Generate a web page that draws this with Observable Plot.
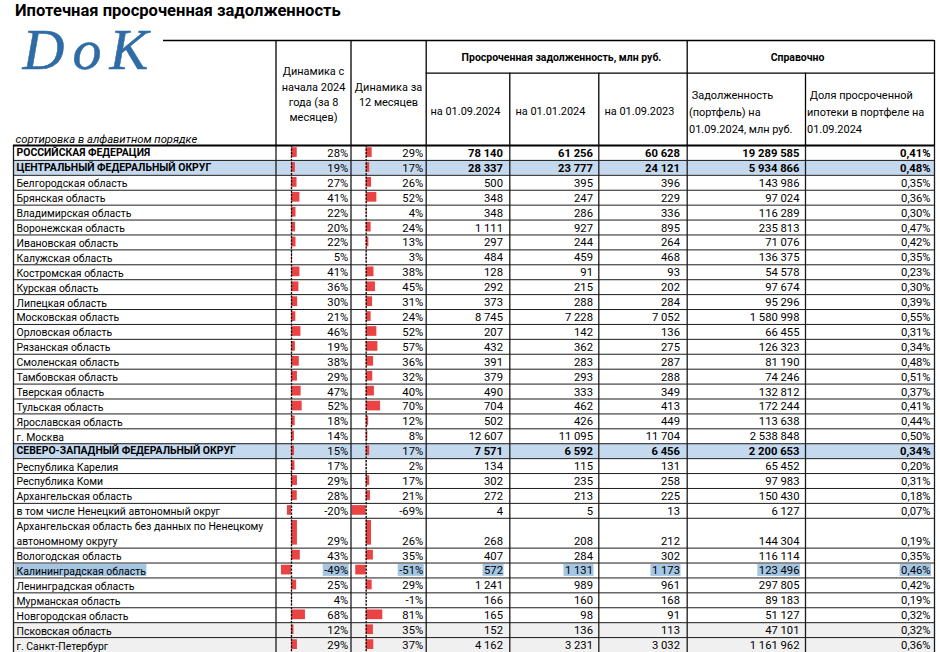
<!DOCTYPE html>
<html><head><meta charset="utf-8">
<script src="https://cdn.jsdelivr.net/npm/d3@7"></script>
<script src="https://cdn.jsdelivr.net/npm/@observablehq/plot@0.6"></script>
<style>
body{margin:0;background:#fff;}
#wrap{position:relative;width:940px;height:652px;overflow:hidden;background:#fff;}
#title{position:absolute;left:15px;top:0px;font-weight:bold;color:#000;z-index:2;white-space:nowrap;line-height:22px;}
#wrap svg{display:block;position:absolute;left:0;top:0;}
</style></head>
<body><div id="wrap"><div id="title">Ипотечная просроченная задолженность</div></div>
<script>
// ---------- DATA ----------
const names = [
 "РОССИЙСКАЯ ФЕДЕРАЦИЯ","ЦЕНТРАЛЬНЫЙ ФЕДЕРАЛЬНЫЙ ОКРУГ","Белгородская область","Брянская область",
 "Владимирская область","Воронежская область","Ивановская область","Калужская область",
 "Костромская область","Курская область","Липецкая область","Московская область",
 "Орловская область","Рязанская область","Смоленская область","Тамбовская область",
 "Тверская область","Тульская область","Ярославская область","г. Москва",
 "СЕВЕРО-ЗАПАДНЫЙ ФЕДЕРАЛЬНЫЙ ОКРУГ","Республика Карелия","Республика Коми","Архангельская область",
 "в том числе Ненецкий автономный округ","Архангельская область без данных по Ненецкому\nавтономному округу",
 "Вологодская область","Калининградская область","Ленинградская область","Мурманская область",
 "Новгородская область","Псковская область","г. Санкт-Петербург"
];
const dyn8 = [28,19,27,41,22,20,22,5,41,36,30,21,46,19,38,29,47,52,18,14,15,17,29,28,-20,29,43,-49,25,4,68,12,29];
const dyn12 = [29,17,26,52,4,24,13,3,38,45,31,24,52,57,36,32,40,70,12,8,17,2,17,21,-69,26,35,-51,29,-1,81,35,37];
const overdue_2024_09 = [78140,28337,500,348,348,1111,297,484,128,292,373,8745,207,432,391,379,490,704,502,12607,7571,134,302,272,4,268,407,572,1241,166,165,152,4162];
const overdue_2024_01 = [61256,23777,395,247,286,927,244,459,91,215,288,7228,142,362,283,293,333,462,426,11095,6592,115,235,213,5,208,284,1131,989,160,98,136,3231];
const overdue_2023_09 = [60628,24121,396,229,336,895,264,468,93,202,284,7052,136,275,287,288,349,413,449,11704,6456,131,258,225,13,212,302,1173,961,168,91,113,3032];
const portfolio = [19289585,5934866,143986,97024,116289,235813,71076,136375,54578,97674,95296,1580998,66455,126323,81190,74246,132812,172244,113638,2538848,2200653,65452,97983,150430,6127,144304,116114,123496,297805,89183,51127,47101,1161962];
const share = [0.41,0.48,0.35,0.36,0.30,0.47,0.42,0.35,0.23,0.30,0.39,0.55,0.31,0.34,0.48,0.51,0.37,0.41,0.44,0.50,0.34,0.20,0.31,0.18,0.07,0.19,0.35,0.46,0.42,0.19,0.32,0.32,0.36];
const boldRows = [0,1,20];
const blueRows = [1,20];
const grayRows = [31,32];
const highlightRows = [27];
const doubleRows = [25];

const titleText = "Ипотечная просроченная задолженность";
const headerTexts = [
 "Динамика с\nначала 2024\nгода (за 8\nмесяцев)",
 "Динамика за\n12 месяцев",
 "Просроченная задолженность, млн руб.",
 "Справочно",
 "на 01.09.2024","на 01.01.2024","на 01.09.2023",
 " Задолженность\n(портфель) на\n01.09.2024, млн руб.",
 " Доля просроченной\nипотеки в портфеле на\n01.09.2024",
 "сортировка в алфавитном порядке"
];
const logoText = "DoK";

// ---------- LAYOUT ----------
const FONT = "Roboto";
const L = {
  left: 13, right: 934, headTop: 40, headMid: 72.7, headBottom: 145, bottom: 652,
  edges: [13, 275.5, 350.5, 425.7, 509.3, 598.3, 686.7, 805, 934],
  fullHeadEdges: [275.5, 350.5, 425.7, 686.7, 934],
  midHeadEdges: [509.3, 598.3, 805],
  topLineStart: 163,
  zero8: 291, zero12: 365.7, pxPerPct: 0.205,
  nameX: 16, nameDy: -0.3, numDy: 0.4,
  numX: [502.5, 592.5, 679.5, 799, 930],
  pctX: [347.7, 422.7],
  fit: {
    name: ["Белгородская область", "normal", "normal", 111],
    bold: ["ЦЕНТРАЛЬНЫЙ ФЕДЕРАЛЬНЫЙ ОКРУГ", "bold", "normal", 195],
    num: ["143 986", "normal", "normal", 40.7],
    head: ["на 01.09.2024", "normal", "normal", 70],
    headBold: ["Просроченная задолженность, млн руб.", "bold", "normal", 200],
    italic: ["сортировка в алфавитном порядке", "normal", "italic", 182],
    title: ["Ипотечная просроченная задолженность", "bold", "normal", 326]
  },
  header: [
    {x:313, y:93, anchor:"middle", lh:15.3, f:"head"},
    {x:388, y:93, anchor:"middle", lh:15.3, f:"head"},
    {x:561, y:56, anchor:"middle", lh:15, f:"headBold"},
    {x:797, y:56, anchor:"middle", lh:15, f:"headBold"},
    {x:430, y:110, anchor:"start", lh:15, f:"head"},
    {x:515, y:110, anchor:"start", lh:15, f:"head"},
    {x:604, y:110, anchor:"start", lh:15, f:"head"},
    {x:688.5, y:110, anchor:"start", lh:16.7, f:"head"},
    {x:806.5, y:110, anchor:"start", lh:16.7, f:"head"},
    {x:15, y:137.5, anchor:"start", lh:15, f:"italic", italic:true}
  ],
  logo: {x: 22, y: 50, size: 58, spacing: 8}
};
const colors = {red:"#ea4343", blue:"#c5d9ee", gray:"#f0f0f0", hl:"#a4c6e3", line:"#1c1c1c", text:"#000", logo:"#2f6ca5"};

// ---------- BUILD ----------
const ctx = document.createElement("canvas").getContext("2d");
const tw = (s, w, size, st="normal") => { ctx.font = `${st} ${w} ${size}px ${FONT}`; return ctx.measureText(s).width; };
const FS = {};
for (const [k, [s, w, st, target]] of Object.entries(L.fit)) FS[k] = 10 * target / tw(s, w, 10, st);

const titleEl = document.getElementById("title");
titleEl.textContent = titleText;
titleEl.style.fontSize = FS.title + "px";
titleEl.style.fontFamily = FONT;

const units = names.map((n,i) => doubleRows.includes(i) ? 2 : 1);
const TOTAL = d3.sum(units);
const rowH = (L.bottom - L.headBottom) / TOTAL;
const yU = px => (px - L.headBottom) / rowH;
let acc = 0;
const rows = names.map((name,i) => {
  const r = {i, name, u0: acc, u1: acc + units[i], d8: dyn8[i], d12: dyn12[i],
    v: [overdue_2024_09[i], overdue_2024_01[i], overdue_2023_09[i], portfolio[i], share[i]],
    bold: boldRows.includes(i)};
  acc += units[i];
  return r;
});
const loc = d3.formatLocale({decimal:",", thousands:"\u00a0", grouping:[3], currency:["",""]});
const fInt = loc.format(",d");
const fShare = v => loc.format(".2f")(v) + "%";
const fPct = v => `${v}%`;
const cellFmt = [fInt, fInt, fInt, fInt, fShare];

const cells = [];
rows.forEach(r => {
  const yc = r.u1 - 0.5;
  cells.push({r, kind:"name", text: r.name, x: L.nameX, y: (r.u0 + r.u1)/2, anchor:"start", bold: r.bold, size: r.bold ? FS.bold : FS.name});
  cells.push({r, kind:"num", text: fPct(r.d8), x: L.pctX[0], y: yc, anchor:"end", bold:false, size: FS.num});
  cells.push({r, kind:"num", text: fPct(r.d12), x: L.pctX[1], y: yc, anchor:"end", bold:false, size: FS.num});
  r.v.forEach((v,k) => cells.push({r, kind:"num", text: cellFmt[k](v), x: L.numX[k], y: yc, anchor:"end", bold: r.bold, size: FS.num}));
});
const hlCells = cells.filter(c => highlightRows.includes(c.r.i)).map(c => {
  const w = tw(c.text, c.bold ? "bold" : "normal", c.size);
  return {...c, x1: c.anchor === "start" ? c.x - 1 : c.x - w - 1, x2: c.anchor === "start" ? c.x + w + 1 : c.x + 1};
});

const rowLines = rows.map(r => r.u0).concat([TOTAL]);
const hdr = headerTexts.map((t,k) => ({text:t, ...L.header[k]}));

const textMark = (data, opts) => Plot.text(data, {x:"x", y:"y", text:"text", fill:colors.text, fontFamily:FONT, dy:L.numDy, ...opts});

const plot = Plot.plot({
  width: 940, height: 652, margin: 0,
  x: {type:"linear", domain:[0,940], range:[0,940], axis:null},
  y: {type:"linear", domain:[yU(0), TOTAL], range:[0,652], axis:null},
  style: {fontFamily: FONT, background:"transparent"},
  marks: [
    Plot.rect(rows.filter(r => blueRows.includes(r.i)), {x1:()=>L.left, x2:()=>L.right, y1:"u0", y2:"u1", fill:colors.blue}),
    Plot.rect(rows.filter(r => grayRows.includes(r.i)), {x1:()=>L.left, x2:()=>L.right, y1:"u0", y2:"u1", fill:colors.gray}),
    Plot.rect(hlCells, {x1:"x1", x2:"x2", y1:d=>d.r.u0, y2:d=>d.r.u1, insetTop:1.5, insetBottom:1.5, fill:colors.hl}),
    Plot.rect(rows, {x1:()=>L.zero8, x2:d=>L.zero8 + d.d8*L.pxPerPct, y1:"u0", y2:"u1", insetTop:2.2, insetBottom:3, fill:colors.red}),
    Plot.rect(rows, {x1:()=>L.zero12, x2:d=>L.zero12 + d.d12*L.pxPerPct, y1:"u0", y2:"u1", insetTop:2.2, insetBottom:3, fill:colors.red}),
    Plot.ruleX([L.zero8, L.zero12], {x:d=>d, y1:()=>0, y2:()=>TOTAL, stroke:"#000", strokeWidth:1.3, strokeDasharray:"2.2,1.3"}),
    Plot.ruleY(rowLines, {y:d=>d, x1:()=>L.left, x2:()=>L.right, stroke:colors.line, strokeWidth:1}),
    Plot.ruleX(L.edges, {x:d=>d, y1:()=>0, y2:()=>TOTAL, stroke:colors.line, strokeWidth:1.3}),
    Plot.ruleY([0], {y:d=>d, x1:()=>L.left, x2:()=>L.right, stroke:"#000", strokeWidth:1.8}),
    Plot.ruleY([yU(L.headTop)], {y:d=>d, x1:()=>L.topLineStart, x2:()=>L.right, stroke:"#000", strokeWidth:1.5}),
    Plot.ruleY([yU(L.headMid)], {y:d=>d, x1:()=>L.edges[3], x2:()=>L.right, stroke:"#000", strokeWidth:1.2}),
    Plot.ruleX(L.fullHeadEdges, {x:d=>d, y1:()=>yU(L.headTop), y2:()=>0, stroke:"#000", strokeWidth:1.3}),
    Plot.ruleX(L.midHeadEdges, {x:d=>d, y1:()=>yU(L.headMid), y2:()=>0, stroke:"#000", strokeWidth:1.3}),
    textMark(cells.filter(c => c.kind === "name" && !c.bold), {textAnchor:"start", fontSize:FS.name, lineHeight: rowH/FS.name, dy:L.nameDy}),
    textMark(cells.filter(c => c.kind === "name" && c.bold), {textAnchor:"start", fontWeight:"bold", fontSize:FS.bold, dy:L.nameDy}),
    textMark(cells.filter(c => c.kind === "num" && !c.bold), {textAnchor:"end", fontSize:FS.num}),
    textMark(cells.filter(c => c.kind === "num" && c.bold), {textAnchor:"end", fontWeight:"bold", fontSize:FS.num}),
    ...hdr.map(h => textMark([h], {x:d=>d.x, y:d=>yU(d.y), textAnchor:h.anchor, fontWeight: h.f === "headBold" ? "bold" : "normal", fontSize:FS[h.f], lineHeight:h.lh/FS[h.f], fontStyle:h.italic ? "italic" : "normal", dy:0})),
    Plot.text([logoText], {x:()=>L.logo.x, y:()=>yU(L.logo.y), text:d=>d, textAnchor:"start", fontSize:L.logo.size, fontStyle:"italic", fontFamily:"Liberation Serif", fill:colors.logo, stroke:colors.logo, strokeWidth:0.5})
  ]
});
plot.querySelectorAll('g[font-family="Liberation Serif"] text').forEach(t => t.setAttribute("letter-spacing", L.logo.spacing));
document.getElementById("wrap").appendChild(plot);
</script>
</body></html>
